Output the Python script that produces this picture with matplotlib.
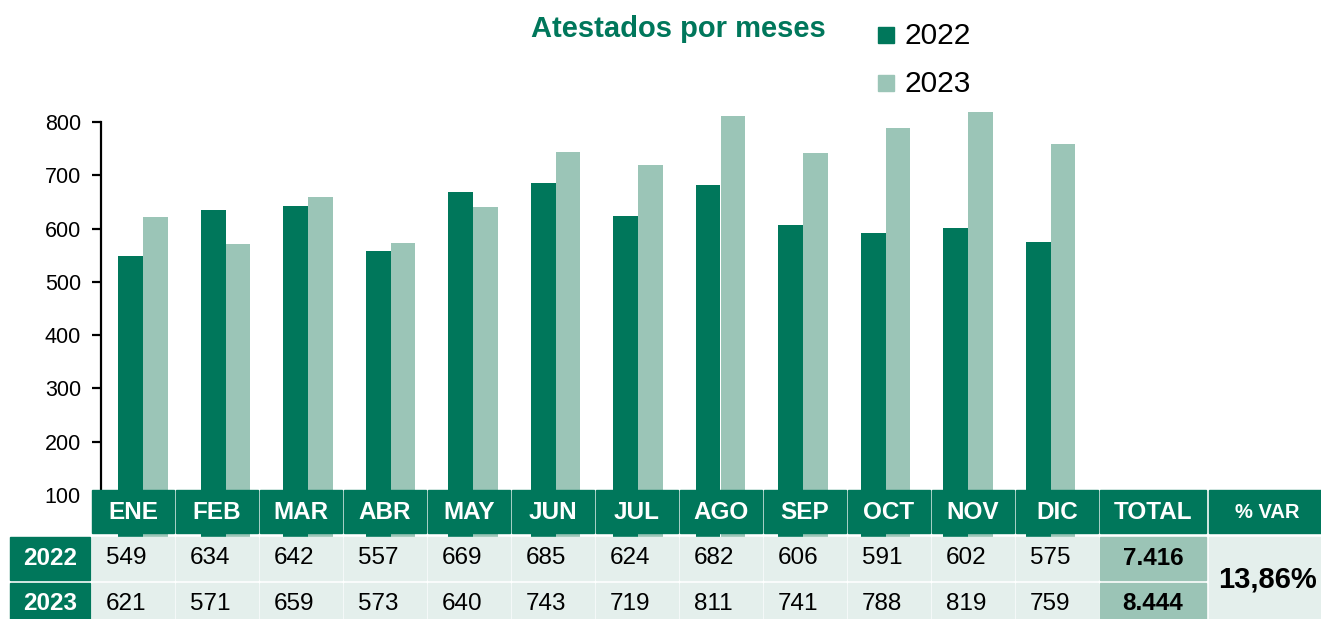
import numpy as np
import matplotlib
matplotlib.use("Agg")
import matplotlib.pyplot as plt
from matplotlib.patches import Rectangle

plt.rcParams['font.family'] = ['Liberation Sans', 'DejaVu Sans']

# ---- data ----
months = ["ENE", "FEB", "MAR", "ABR", "MAY", "JUN", "JUL", "AGO", "SEP", "OCT", "NOV", "DIC"]
series_names = ["2022", "2023"]
values_2022 = [549, 634, 642, 557, 669, 685, 624, 682, 606, 591, 602, 575]
values_2023 = [621, 571, 659, 573, 640, 743, 719, 811, 741, 788, 819, 759]
yticks = [100, 200, 300, 400, 500, 600, 700, 800]
title = "Atestados por meses"

# ---- style ----
DARK = "#00775B"
LIGHT = "#9BC5B7"
CELL = "#E4EFEC"
TOTCELL = "#9BC4B6"

W, H = 1321, 619
fig = plt.figure(figsize=(W / 100, H / 100), dpi=100)

# main bar axes (pixel layout)
x_left, x_right, y_top, y_base = 101, 1100, 122, 495
c0, step = 143, 82.5
ax = fig.add_axes([x_left / W, (H - y_base) / H, (x_right - x_left) / W, (y_base - y_top) / H])
x = np.arange(len(months))
ax.bar(x - 0.15, values_2022, width=0.3, color=DARK, clip_on=False, zorder=1)
ax.bar(x + 0.15, values_2023, width=0.3, color=LIGHT, clip_on=False, zorder=1)
ax.set_xlim((x_left - c0) / step, (x_right - c0) / step)
ax.set_ylim(100, 800)
ax.set_yticks(yticks)
ax.set_xticks([])
for s in ("top", "right", "bottom"):
    ax.spines[s].set_visible(False)
ax.spines["left"].set_linewidth(1.6)
ax.spines["left"].set_bounds(100, 800)
ax.tick_params(axis="y", length=6.5, width=1.6, pad=8, labelsize=15.5, direction="out")
ax.patch.set_alpha(0)

# overlay in pixel coords for title, legend and table
ov = fig.add_axes([0, 0, 1, 1])
ov.set_xlim(0, W)
ov.set_ylim(H, 0)
ov.axis("off")
ov.patch.set_alpha(0)

ov.text(678, 29, title, color=DARK, fontsize=21, fontweight="bold", ha="center", va="center")

# legend
for k, (name, col) in enumerate(zip(series_names, [DARK, LIGHT])):
    yc = 35 + 48 * k
    ov.add_patch(Rectangle((878, yc - 8), 16, 16, color=col))
    ov.text(904, yc + 1, name, fontsize=21.5, ha="left", va="center")

# table header
hdr_top, hdr_h = 490, 43
r1_top, r_h = 537, 43
r2_top = 583
col0, colw, cw = 92, 84, 82
for i, m in enumerate(months):
    xl = col0 + colw * i
    ov.add_patch(Rectangle((xl, hdr_top), cw, hdr_h, color=DARK))
    ov.text(xl + cw / 2, hdr_top + hdr_h / 2 + 1, m, color="white", fontsize=17.5,
            fontweight="bold", ha="center", va="center")
tot_x, tot_w = 1100, 106
var_x, var_w = 1209, 112
ov.add_patch(Rectangle((tot_x, hdr_top), tot_w, hdr_h, color=DARK))
ov.text(tot_x + tot_w / 2, hdr_top + hdr_h / 2 + 1, "TOTAL", color="white", fontsize=17.5,
        fontweight="bold", ha="center", va="center")
ov.add_patch(Rectangle((var_x, hdr_top), var_w, hdr_h, color=DARK))
ov.text(1267, hdr_top + hdr_h / 2 + 1, "% VAR", color="white", fontsize=14.5,
        fontweight="bold", ha="center", va="center")

# data rows
totals = []
for r, (name, vals, top) in enumerate(zip(series_names, [values_2022, values_2023], [r1_top, r2_top])):
    ov.add_patch(Rectangle((10, top), 80, r_h, color=DARK))
    ov.text(50, top + r_h / 2 - (0 if r == 0 else 1), name, color="white", fontsize=17.5,
            fontweight="bold", ha="center", va="center")
    for i, v in enumerate(vals):
        xl = col0 + colw * i
        ov.add_patch(Rectangle((xl, top), cw, r_h, color=CELL))
        ov.text(xl + 14, top + r_h / 2 + (0 if r == 0 else -1), str(v), fontsize=17.5,
                ha="left", va="center")
    t = int(np.sum(vals))
    totals.append(t)
    ov.add_patch(Rectangle((tot_x, top), tot_w, r_h, color=TOTCELL))
    ov.text(tot_x + tot_w / 2, top + r_h / 2 + (0 if r == 0 else -1), f"{t:,}".replace(",", "."),
            fontsize=17.5, fontweight="bold", ha="center", va="center")

var = (totals[1] - totals[0]) / totals[0] * 100
ov.add_patch(Rectangle((var_x, r1_top), var_w, 100, color=CELL))
ov.text(var_x + var_w / 2 + 2, 580, f"{var:.2f}%".replace(".", ","), fontsize=21,
        fontweight="bold", ha="center", va="center")

fig.savefig("out.png", dpi=100)
